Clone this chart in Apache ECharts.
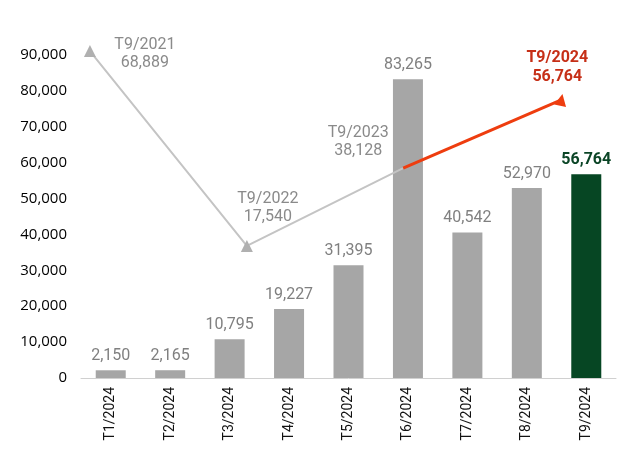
<!DOCTYPE html>
<html>
<head>
<meta charset="utf-8">
<script src="https://cdn.jsdelivr.net/npm/echarts@6/dist/echarts.min.js"></script>
<style>
  html, body { margin: 0; padding: 0; background: #fff; }
  #chart { width: 640px; height: 452px; }
</style>
</head>
<body>
<div id="chart"></div>
<script>
// 月份与数值
const months = ["T1/2024", "T2/2024", "T3/2024", "T4/2024", "T5/2024", "T6/2024", "T7/2024", "T8/2024", "T9/2024"];
const values = [2150, 2165, 10795, 19227, 31395, 83265, 40542, 52970, 56764];

// 同比箭头（T9 各年）
const trendX = [-0.35, 2.29, 4.92];
const trendY = [91100, 36800, 58500];
const trendNames = ["T9/2021", "T9/2022", "T9/2023"];
const trendValues = [68889, 17540, 38128];
const arrowX = [4.92, 7.58];
const arrowY = [58500, 77500];
const arrowName = "T9/2024";
const arrowValue = 56764;

const fmt = (v) => v.toLocaleString("en-US");
const font = "Roboto";

const chart = echarts.init(document.getElementById("chart"));

const labelOffsets = [[55, 3], [21, -38], [-45, -26]];
const trendData = trendX.map((x, i) => ({
  value: [x, trendY[i]],
  symbol: i < 2 ? "triangle" : "circle",
  symbolSize: i < 2 ? 12 : 1,
  label: {
    show: true,
    position: "inside",
    offset: labelOffsets[i],
    formatter: trendNames[i] + "\n" + fmt(trendValues[i]),
    color: "#8a8a8a",
    fontSize: 16,
    lineHeight: 18,
    fontFamily: font,
  },
}));

const arrowData = arrowX.map((x, i) => ({
  value: [x, arrowY[i]],
  symbol: i === 1 ? "triangle" : "none",
  symbolSize: 12,
  symbolRotate: -11,
  label: i === 1 ? {
    show: true,
    position: "inside",
    offset: [-4, -32],
    formatter: arrowName + "\n" + fmt(arrowValue),
    color: "#c62f17",
    fontWeight: "bold",
    fontSize: 16,
    lineHeight: 19,
    fontFamily: font,
  } : { show: false },
}));

const option = {
  animation: false,
  grid: { left: 81, right: 24, top: 55, bottom: 74 },
  xAxis: [
    {
      type: "category",
      data: months,
      axisTick: { show: false },
      axisLine: { lineStyle: { color: "#d0d0d0", width: 1 } },
      axisLabel: { rotate: 90, color: "#111", fontSize: 14, fontFamily: font, margin: 9 },
    },
    { type: "value", min: -0.5, max: 8.5, show: false },
  ],
  yAxis: {
    type: "value",
    min: 0,
    max: 90000,
    interval: 10000,
    splitLine: { show: false },
    axisLine: { show: false },
    axisTick: { show: false },
    axisLabel: { color: "#000", fontSize: 15, fontFamily: "Open Sans", margin: 14, formatter: (v) => fmt(v) },
  },
  series: [
    {
      type: "bar",
      barWidth: 30,
      data: values.map((v, i) => ({
        value: v,
        itemStyle: { color: i === values.length - 1 ? "#064623" : "#a6a6a6" },
        label: i === values.length - 1
          ? { color: "#0b4526", fontWeight: "bold", fontSize: 16 }
          : {},
      })),
      label: {
        show: true,
        position: "top",
        distance: 6,
        color: "#808080",
        fontSize: 16,
        fontFamily: font,
        formatter: (p) => fmt(p.value),
      },
    },
    {
      type: "line",
      xAxisIndex: 1,
      data: trendData,
      lineStyle: { color: "#c4c4c4", width: 2 },
      itemStyle: { color: "#b0b0b0" },
      clip: false,
      z: 3,
    },
    {
      type: "line",
      xAxisIndex: 1,
      data: arrowData,
      lineStyle: { color: "#ee3d0f", width: 3 },
      itemStyle: { color: "#ee3d0f" },
      clip: false,
      z: 4,
    },
  ],
};

chart.setOption(option);
</script>
</body>
</html>
